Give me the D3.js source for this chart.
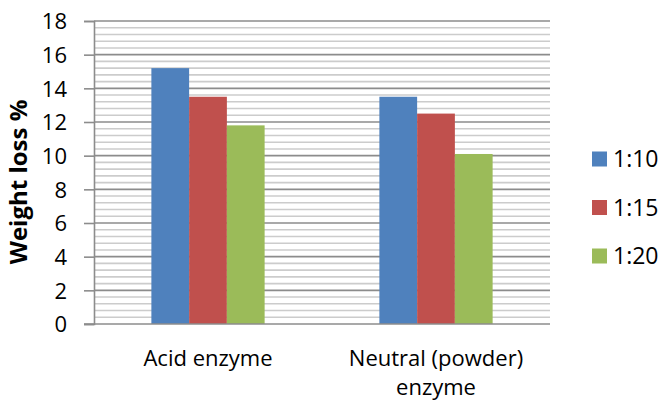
<!DOCTYPE html>
<html><head><meta charset="utf-8">
<script src="https://cdnjs.cloudflare.com/ajax/libs/d3/7.8.5/d3.min.js"></script>
<style>body{margin:0;background:#fff;} svg{display:block;font-family:"Open Sans",sans-serif;}</style>
</head><body><svg id="c" width="662" height="403"></svg>
<script>
const categories = ["Acid enzyme", "Neutral (powder) enzyme"];
const seriesNames = ["1:10", "1:15", "1:20"];
const s110 = [15.2, 13.5];
const s115 = [13.5, 12.5];
const s120 = [11.8, 10.1];
const yTicks = [0, 2, 4, 6, 8, 10, 12, 14, 16, 18];
const colors = ["#4f81bd", "#c0504d", "#9bbb59"];
const seriesValues = [s110, s115, s120];

const svg = d3.select("#c");
const L = 94, R = 550, T = 21, B = 324;
const x = d3.scaleBand().domain(categories).range([L, R]).paddingInner(0).paddingOuter(0);
const y = d3.scaleLinear().domain([0, 18]).range([B, T]);
const inner = d3.scaleBand().domain(seriesNames).range([0, x.bandwidth()]).paddingInner(0).paddingOuter(1.52);

// minor gridlines
const minor = d3.range(0, 18.0001, 0.4).filter(v => Math.abs(v/2 - Math.round(v/2)) > 1e-6);
svg.append("g").selectAll("line").data(minor).join("line")
  .attr("x1", L).attr("x2", R).attr("y1", d => y(d)).attr("y2", d => y(d))
  .attr("stroke", "#cccccc").attr("stroke-width", 1.6);
// major gridlines
svg.append("g").selectAll("line").data(yTicks.filter(d => d > 0)).join("line")
  .attr("x1", L).attr("x2", R).attr("y1", d => y(d)).attr("y2", d => y(d))
  .attr("stroke", "#8c8c8c").attr("stroke-width", 1.6);

// bars
seriesNames.forEach((s, i) => {
  svg.append("g").selectAll("rect").data(categories).join("rect")
    .attr("x", (c) => x(c) + inner(s))
    .attr("width", inner.bandwidth())
    .attr("y", (c, j) => y(seriesValues[i][j]))
    .attr("height", (c, j) => y(0) - y(seriesValues[i][j]))
    .attr("fill", colors[i]);
});

// y axis
const yAxis = d3.axisLeft(y).tickValues(yTicks).tickSize(10).tickPadding(17).tickFormat(d3.format("d"));
const gy = svg.append("g").attr("transform", `translate(${L},0)`).call(yAxis);
gy.select(".domain").attr("stroke", "#8c8c8c").attr("stroke-width", 1.6);
gy.selectAll(".tick line").attr("stroke", "#8c8c8c").attr("stroke-width", 1.6);
gy.selectAll(".tick text").attr("font-size", 22).attr("fill", "#000").attr("font-family", "Open Sans").attr("dy", "0.36em");

// x axis line
svg.append("line").attr("x1", L - 10).attr("x2", R).attr("y1", B).attr("y2", B)
  .attr("stroke", "#8c8c8c").attr("stroke-width", 1.6);

// x labels
const xl = svg.append("g");
categories.forEach(c => {
  const lines = c === "Neutral (powder) enzyme" ? ["Neutral (powder)", "enzyme"] : [c];
  lines.forEach((t, k) => {
    xl.append("text").attr("x", x(c) + x.bandwidth() / 2).attr("y", 366 + k * 29)
      .attr("text-anchor", "middle").attr("font-size", 22).text(t);
  });
});

// y title
svg.append("text").attr("transform", `translate(27,182) rotate(-90)`)
  .attr("text-anchor", "middle").attr("font-size", 24).attr("font-weight", "bold").text("Weight loss %");

// legend
const lg = svg.append("g");
seriesNames.forEach((s, i) => {
  const cy = 159 + i * 48.5;
  lg.append("rect").attr("x", 592).attr("y", cy - 7.5).attr("width", 15).attr("height", 15).attr("fill", colors[i]);
  lg.append("text").attr("x", 613).attr("y", cy).attr("dy", "0.36em").attr("font-size", 23).text(s);
});
</script></body></html>
